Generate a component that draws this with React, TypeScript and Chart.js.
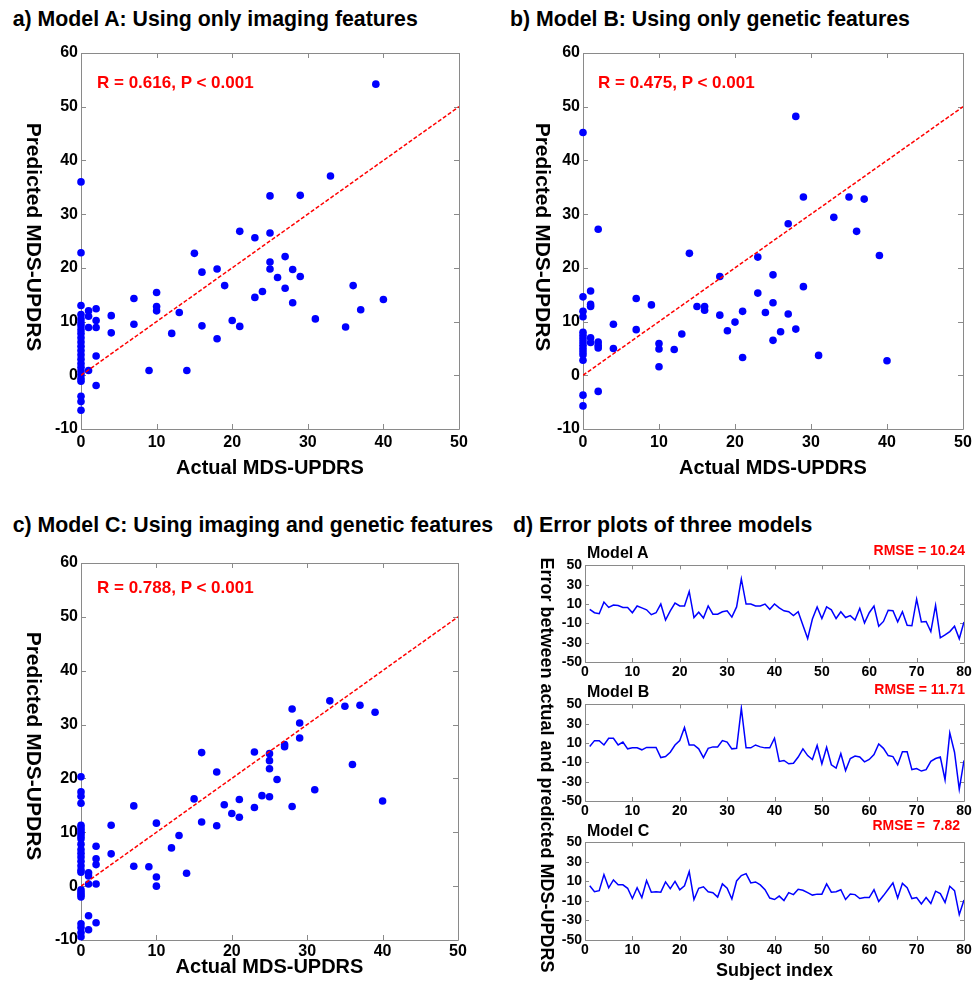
import React, { useEffect, useRef } from 'react';
import { Chart, registerables } from 'chart.js';

Chart.register(...registerables);

const FONT = '"Liberation Sans", Arial, Helvetica, sans-serif';
Chart.defaults.font.family = FONT;

// ---------- data ----------
const X_TICKS = [0, 10, 20, 30, 40, 50];
const Y_TICKS = [-10, 0, 10, 20, 30, 40, 50, 60];
const D_X_TICKS = [0, 10, 20, 30, 40, 50, 60, 70, 80];
const D_Y_TICKS = [-50, -30, -10, 10, 30, 50];
const FIT_X = [0, 50];
const FIT_Y = [0, 50];

// Model A (imaging)
const actualA = [
  0, 0, 0, 0, 0, 0, 0, 0, 0, 0, 0, 0, 0, 0, 0, 0, 0, 0, 0, 0, 0, 0, 0, 0,
  1, 1, 1, 1, 2, 2, 2, 2, 2, 4, 4, 7, 7, 9, 10, 10, 10, 12, 13, 14, 15, 16, 16,
  18, 18, 19, 20, 21, 21, 23, 23, 24, 25, 25, 25, 25, 26, 27, 27, 28, 28, 29, 29,
  31, 33, 35, 36, 37, 39, 40,
];
const predictedA = [
  36.0, 22.8, 13.0, 11.3, 10.5, 9.8, 9.2, 8.5, 7.8, 7.0, 6.2, 5.4, 4.6, 3.8, 3.0, 2.2, 1.5, 0.8, 0.1, -0.6, -1.1, -3.9, -4.9, -6.5,
  12.0, 11.0, 8.9, 0.9, 12.4, 10.2, 8.9, 3.6, -1.9, 11.1, 7.9, 14.3, 9.5, 0.9, 15.4, 12.8, 12.0, 7.8, 11.7, 0.9, 22.7, 19.2, 9.2,
  19.8, 6.8, 16.7, 10.2, 26.8, 9.1, 25.6, 14.5, 15.6, 33.4, 26.5, 21.1, 19.8, 18.2, 22.1, 16.2, 19.7, 13.5, 33.5, 18.4,
  10.5, 37.1, 9.0, 16.7, 12.2, 54.2, 14.1,
];

// Model B (genetic)
const actualB = [
  0, 0, 0, 0, 0, 0, 0, 0, 0, 0, 0, 0, 0, 0, 0,
  1, 1, 1, 1, 1, 2, 2, 2, 2, 2, 4, 4, 7, 7, 9, 10, 10, 10, 12, 13, 14, 15, 16, 16,
  18, 18, 19, 20, 21, 21, 23, 23, 24, 25, 25, 25, 26, 27, 27, 28, 28, 29, 29,
  31, 33, 35, 36, 37, 39, 40,
];
const predictedB = [
  45.2, 14.6, 11.9, 10.9, 8.0, 7.4, 6.8, 6.2, 5.6, 5.0, 4.4, 3.8, 2.8, -3.7, -5.7,
  15.7, 13.2, 12.8, 7.0, 6.1, 27.2, 6.2, 5.6, 5.1, -3.0, 9.5, 5.0, 14.3, 8.5, 13.1, 5.9, 4.9, 1.6, 4.8, 7.7, 22.7, 12.8, 12.8, 12.1,
  18.4, 11.2, 8.3, 9.9, 11.9, 3.3, 22.0, 15.3, 11.7, 18.7, 13.5, 6.5, 8.1, 28.2, 11.4, 48.2, 8.6, 33.2, 16.5,
  3.7, 29.4, 33.2, 26.8, 32.8, 22.3, 2.7,
];

// Model C (imaging + genetic)
const actualC = [
  0, 0, 0, 0, 0, 0, 0, 0, 0, 0, 0, 0, 0, 0, 0, 0, 0, 0, 0, 0, 0, 0, 0, 0, 0, 0,
  1, 1, 1, 1, 1, 2, 2, 2, 2, 2, 4, 4, 7, 7, 9, 10, 10, 10, 12, 13, 14, 15, 16, 16,
  18, 18, 19, 20, 21, 21, 23, 23, 24, 25, 25, 25, 25, 26, 27, 27, 28, 28, 29, 29,
  31, 33, 35, 36, 37, 39, 40,
];
const predictedC = [
  20.3, 17.5, 16.7, 15.4, 11.3, 10.8, 10.3, 9.8, 9.3, 8.8, 7.8, 6.8, 6.1, 5.4, 4.6, 3.8, 3.0, 2.6, -0.7, -1.2, -1.6, -2.0, -7.0, -7.7, -8.6, -9.4,
  2.5, 1.9, 0.4, -5.5, -8.1, 7.4, 5.1, 4.0, 0.4, -6.8, 11.3, 6.0, 14.9, 3.7, 3.6, 11.7, 1.7, 0.0, 7.1, 9.4, 2.4, 16.2, 24.8, 11.9,
  21.2, 11.2, 15.1, 13.5, 16.1, 12.8, 24.9, 14.6, 16.8, 24.6, 23.3, 21.8, 16.6, 19.8, 26.3, 25.9, 32.9, 14.8, 30.3, 27.5,
  17.9, 34.4, 33.4, 22.6, 33.6, 32.3, 15.8,
];

// Error plots (subject index 1..80)
const SUBJECTS = [
  1, 2, 3, 4, 5, 6, 7, 8, 9, 10, 11, 12, 13, 14, 15, 16, 17, 18, 19, 20,
  21, 22, 23, 24, 25, 26, 27, 28, 29, 30, 31, 32, 33, 34, 35, 36, 37, 38, 39, 40,
  41, 42, 43, 44, 45, 46, 47, 48, 49, 50, 51, 52, 53, 54, 55, 56, 57, 58, 59, 60,
  61, 62, 63, 64, 65, 66, 67, 68, 69, 70, 71, 72, 73, 74, 75, 76, 77, 78, 79, 80,
];
const errorA = [
  4.5, 1, 0, 12, 6.5, 9, 8.5, 6.5, 6.5, 1, 8, 6, 4, -1, 1, 10, -6.5, 3, 11, 8,
  8, 23, -4, 1.5, -4.5, 8, -0.5, -0.5, 2, 3, -3.5, 7, 36, 10, 10, 8, 8, 10, 4.5, 10,
  6, 3, 2, -2, 2, -12, -25.8, -5.5, 7, -5, 7, 4, -5, 2, -4, -2, -6.5, 5.5, -9.5, 1,
  8, -13, -8, 3.5, 3, -8.5, 2, -12, -12.5, 15, -8.5, -8, -18.5, 8.5, -25, -22, -18.5, -13, -26, -8.5,
];
const errorB = [
  6.5, 12.5, 12.5, 8, 15, 15, 8, 11, 4, 5, 5, 3, 5.5, 5.5, 5.5, -5, -4, 0.5, 8, 12.5,
  26, 8, 8, 4, -5, 4.5, 6, 6, 12.5, 11, 4, 4.5, 46, 5, 5, 8, 6, 5, 5, 15,
  -9, -8, -11.5, -11, -4.5, 4, -3, -7, 7.5, -11.5, 5.5, -12.5, -16, -1, -18.5, -6, -3.5, -4.5, -9.5, -7,
  -2, 9, 4.5, -3, -4, -12.5, 1, 1, -17.5, -16.5, -19, -17.5, -9, -6, -4.5, -28, 20.5, 0.5, -38, -8,
];
const errorC = [
  5.5, -0.5, 0.5, 17, 3.5, 11.5, 6.5, 6.5, 3, -7.5, 3.5, -6.5, 11, -1, -0.5, -1, 9.5, 2.5, 10, 1.5,
  5.5, 20, -8.5, 3, 4.5, -0.5, -1.5, -6, 7.5, 3, -8, 10.5, 16, 18, 8.5, 9.5, 6.5, 1.5, -7, -8.5,
  -5, -9.5, -1.5, -3.5, 2, 1, -1.5, -4, -3, -3, 7.5, -1, -0.5, 1.5, -8.5, -3, -3.5, -7.5, -6.5, -6.5,
  1.5, -10.5, -4.5, 2, 8.5, -7, 8, 3.5, -7.5, -6.5, -13, -6.5, -12.5, 0, -2.5, -11.5, 5, 0.5, -24, -9,
];

// ---------- helpers ----------
const boxPlugin = {
  id: 'matlabBox',
  beforeDatasetsDraw(chart: any, _args: any, opts: any) {
    const { ctx, chartArea: a, scales } = chart;
    const L = opts.tick || 5;
    ctx.save();
    ctx.strokeStyle = opts.color || '#8a8a8a';
    ctx.lineWidth = 1;
    ctx.beginPath();
    ctx.rect(Math.round(a.left) + 0.5, Math.round(a.top) + 0.5, Math.round(a.right - a.left), Math.round(a.bottom - a.top));
    const xs = scales.x, ys = scales.y;
    for (const t of xs.ticks) {
      const p = Math.round(xs.getPixelForValue(t.value)) + 0.5;
      ctx.moveTo(p, a.bottom);
      ctx.lineTo(p, a.bottom - L);
      ctx.moveTo(p, a.top);
      ctx.lineTo(p, a.top + L);
    }
    for (const t of ys.ticks) {
      const p = Math.round(ys.getPixelForValue(t.value)) + 0.5;
      ctx.moveTo(a.left, p);
      ctx.lineTo(a.left + L, p);
      ctx.moveTo(a.right, p);
      ctx.lineTo(a.right - L, p);
    }
    ctx.stroke();
    ctx.restore();
  },
};

const tickSetter = (vals: number[]) => (s: any) => {
  s.ticks = vals.map((v) => ({ value: v }));
};

function scatterConfig(
  xs: number[],
  ys: number[],
  g: { yw: number; xh: number; padTop: number; padRight: number; tickPad: number; titlePad: number }
) {
  return {
    type: 'scatter',
    data: {
      datasets: [
        {
          type: 'line',
          data: FIT_X.map((x, i) => ({ x, y: FIT_Y[i] })),
          borderColor: '#ff0000',
          borderWidth: 1.5,
          borderDash: [4, 2],
          pointRadius: 0,
          fill: false,
          order: 0,
        },
        {
          type: 'scatter',
          data: xs.map((x, i) => ({ x, y: ys[i] })),
          backgroundColor: '#0000ff',
          borderWidth: 0,
          pointRadius: 3.8,
          clip: false,
          order: 1,
        },
      ],
    },
    options: {
      responsive: false,
      animation: false,
      events: [],
      layout: { padding: { left: 0, top: g.padTop, right: g.padRight, bottom: 0 } },
      plugins: {
        legend: { display: false },
        tooltip: { enabled: false },
        matlabBox: { color: '#8a8a8a', tick: 5 },
      },
      scales: {
        x: {
          type: 'linear',
          min: 0,
          max: 50,
          grid: { display: false, drawTicks: false },
          border: { display: false },
          afterBuildTicks: tickSetter(X_TICKS),
          ticks: { color: '#000', font: { size: 16, weight: 'bold' }, padding: g.tickPad, maxRotation: 0, autoSkip: false },
          title: {
            display: true,
            text: 'Actual MDS-UPDRS',
            color: '#000',
            font: { size: 20, weight: 'bold' },
            padding: { top: 0, bottom: g.titlePad },
          },
          afterFit: (s: any) => { s.height = g.xh; },
        },
        y: {
          type: 'linear',
          min: -10,
          max: 60,
          grid: { display: false, drawTicks: false },
          border: { display: false },
          afterBuildTicks: tickSetter(Y_TICKS),
          ticks: { color: '#000', font: { size: 16, weight: 'bold' }, padding: 3, autoSkip: false },
          afterFit: (s: any) => { s.width = g.yw; },
        },
      },
    },
    plugins: [boxPlugin],
  };
}

function errorConfig(errs: number[], g: { xh: number; title?: string }) {
  return {
    type: 'line',
    data: {
      datasets: [
        {
          data: SUBJECTS.map((x, i) => ({ x, y: errs[i] })),
          borderColor: '#0000ff',
          borderWidth: 1.5,
          pointRadius: 0,
          fill: false,
          tension: 0,
        },
      ],
    },
    options: {
      responsive: false,
      animation: false,
      events: [],
      layout: { padding: { left: 0, top: 9, right: 12, bottom: 0 } },
      plugins: {
        legend: { display: false },
        tooltip: { enabled: false },
        matlabBox: { color: '#8a8a8a', tick: 4 },
      },
      scales: {
        x: {
          type: 'linear',
          min: 0,
          max: 80,
          grid: { display: false, drawTicks: false },
          border: { display: false },
          afterBuildTicks: tickSetter(D_X_TICKS),
          ticks: { color: '#000', font: { size: 14, weight: 'bold' }, padding: 1.5, maxRotation: 0, autoSkip: false },
          title: { display: !!g.title, text: g.title || '', color: '#000', font: { size: 18, weight: 'bold' }, padding: 0 },
          afterFit: (s: any) => { s.height = g.xh; },
        },
        y: {
          type: 'linear',
          min: -50,
          max: 50,
          grid: { display: false, drawTicks: false },
          border: { display: false },
          afterBuildTicks: tickSetter(D_Y_TICKS),
          ticks: { color: '#000', font: { size: 14, weight: 'bold' }, padding: 3, autoSkip: false },
          afterFit: (s: any) => { s.width = 25; },
        },
      },
    },
    plugins: [boxPlugin],
  };
}

function ChartBox({ left, top, width, height, make }: { left: number; top: number; width: number; height: number; make: () => any }) {
  const ref = useRef<HTMLCanvasElement>(null);
  useEffect(() => {
    const chart = new Chart(ref.current as HTMLCanvasElement, make());
    return () => chart.destroy();
  }, []);
  return (
    <canvas
      ref={ref}
      width={width}
      height={height}
      style={{ position: 'absolute', left, top, width, height }}
    />
  );
}

function Txt({ left, cy, size, color = '#000', children, right }: any) {
  const style: any = {
    position: 'absolute',
    top: cy - 0.5885 * size,
    fontSize: size,
    lineHeight: `${size * 1.2}px`,
    fontWeight: 'bold',
    color,
    whiteSpace: 'pre',
  };
  if (right !== undefined) style.right = right;
  else style.left = left;
  return <div style={style}>{children}</div>;
}

function VTxt({ cx, cy, size, children }: any) {
  return (
    <div
      style={{
        position: 'absolute',
        left: cx,
        top: cy,
        fontSize: size,
        lineHeight: `${size * 1.2}px`,
        fontWeight: 'bold',
        color: '#000',
        whiteSpace: 'nowrap',
        transform: 'translate(-50%, -50%) rotate(90deg)',
      }}
    >
      {children}
    </div>
  );
}

export default function App() {
  return (
    <div
      style={{
        position: 'fixed',
        left: 0,
        top: 0,
        width: 976,
        height: 982,
        overflow: 'hidden',
        background: '#fff',
        fontFamily: FONT,
      }}
    >
      {/* Panel titles */}
      <Txt left={12.7} cy={19.3} size={21.3}>a) Model A: Using only imaging features</Txt>
      <Txt left={510} cy={19.3} size={21.3}>b) Model B: Using only genetic features</Txt>
      <Txt left={12.7} cy={525.8} size={21.3}>c) Model C: Using imaging and genetic features</Txt>
      <Txt left={513} cy={525.8} size={21.3}>d) Error plots of three models</Txt>

      {/* Scatter charts */}
      <ChartBox left={40} top={38} width={440} height={442}
        make={() => scatterConfig(actualA, predictedA, { yw: 41, xh: 51, padTop: 15, padRight: 21, tickPad: 4, titlePad: 0 })} />
      <ChartBox left={540} top={38} width={436} height={442}
        make={() => scatterConfig(actualB, predictedB, { yw: 43, xh: 51, padTop: 15, padRight: 13, tickPad: 4, titlePad: 0 })} />
      <ChartBox left={40} top={548} width={440} height={434}
        make={() => scatterConfig(actualC, predictedC, { yw: 41, xh: 42, padTop: 15, padRight: 22, tickPad: 2, titlePad: 3 })} />

      <VTxt cx={33.5} cy={237} size={21}>Predicted MDS-UPDRS</VTxt>
      <VTxt cx={543} cy={237} size={21}>Predicted MDS-UPDRS</VTxt>
      <VTxt cx={33.5} cy={746} size={21}>Predicted MDS-UPDRS</VTxt>

      <Txt left={97} cy={83} size={17} color="#ff0000">R = 0.616, P &lt; 0.001</Txt>
      <Txt left={598} cy={83} size={17} color="#ff0000">R = 0.475, P &lt; 0.001</Txt>
      <Txt left={97} cy={588} size={17} color="#ff0000">R = 0.788, P &lt; 0.001</Txt>

      {/* Error plots */}
      <ChartBox left={560} top={554} width={416} height={128} make={() => errorConfig(errorA, { xh: 20 })} />
      <ChartBox left={560} top={693} width={416} height={128} make={() => errorConfig(errorB, { xh: 20 })} />
      <ChartBox left={560} top={831} width={416} height={151} make={() => errorConfig(errorC, { xh: 42, title: 'Subject index' })} />

      <Txt left={587} cy={552.5} size={16}>Model A</Txt>
      <Txt right={11} cy={550} size={14} color="#ff0000">RMSE = 10.24</Txt>
      <Txt left={587} cy={691.7} size={16}>Model B</Txt>
      <Txt right={11} cy={689.5} size={14} color="#ff0000">RMSE = 11.71</Txt>
      <Txt left={587} cy={830} size={16}>Model C</Txt>
      <Txt right={16} cy={825} size={14} color="#ff0000">RMSE =  7.82</Txt>

      <VTxt cx={546} cy={765} size={18}>Error between actual and predicted MDS-UPDRS</VTxt>
    </div>
  );
}
